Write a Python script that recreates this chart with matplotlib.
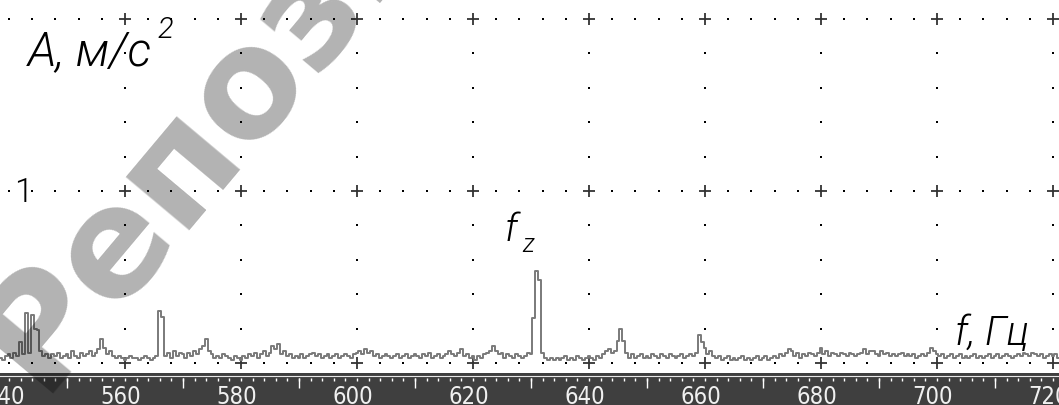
import numpy as np
import matplotlib.pyplot as plt
from matplotlib import font_manager as fm

# %% data: amplitude spectrum, 0.5 Hz bins from 538.5 Hz
f_start = 538.5
f_step = 0.5
amp_head = [0.03, 0.02, 0.04]
amp_540 = [0.05, 0.03, 0.06, 0.04, 0.12, 0.05, 0.29, 0.06, 0.28, 0.20,
           0.19, 0.07, 0.04, 0.05, 0.03, 0.05, 0.04, 0.06, 0.03, 0.04]
amp_550 = [0.05, 0.03, 0.07, 0.04, 0.03, 0.06, 0.04, 0.05, 0.07, 0.04,
           0.06, 0.08, 0.14, 0.09, 0.05, 0.07, 0.04, 0.03, 0.04, 0.03]
amp_560 = [0.02, 0.03, 0.04, 0.03, 0.03, 0.02, 0.03, 0.04, 0.03, 0.02,
           0.03, 0.04, 0.30, 0.27, 0.04, 0.06, 0.03, 0.07, 0.04, 0.06]
amp_570 = [0.05, 0.03, 0.06, 0.04, 0.07, 0.05, 0.08, 0.10, 0.14, 0.07,
           0.05, 0.03, 0.04, 0.03, 0.05, 0.04, 0.03, 0.02, 0.04, 0.03]
amp_580 = [0.02, 0.04, 0.03, 0.05, 0.04, 0.06, 0.03, 0.05, 0.07, 0.04,
           0.06, 0.10, 0.08, 0.11, 0.05, 0.07, 0.04, 0.05, 0.03, 0.04]
amp_590 = [0.03, 0.05, 0.03, 0.04, 0.05, 0.06, 0.04, 0.05, 0.03, 0.04,
           0.05, 0.03, 0.04, 0.05, 0.03, 0.04, 0.05, 0.04, 0.03, 0.05]
amp_600 = [0.06, 0.07, 0.05, 0.08, 0.06, 0.07, 0.04, 0.05, 0.03, 0.04,
           0.05, 0.04, 0.03, 0.04, 0.05, 0.03, 0.04, 0.05, 0.03, 0.04]
amp_610 = [0.05, 0.04, 0.03, 0.05, 0.04, 0.06, 0.03, 0.04, 0.05, 0.03,
           0.04, 0.05, 0.07, 0.05, 0.04, 0.06, 0.08, 0.04, 0.05, 0.03]
amp_620 = [0.04, 0.02, 0.04, 0.03, 0.05, 0.06, 0.07, 0.10, 0.07, 0.05,
           0.06, 0.03, 0.05, 0.04, 0.03, 0.05, 0.04, 0.03, 0.04, 0.06]
amp_630 = [0.05, 0.26, 0.535, 0.48, 0.06, 0.03, 0.02, 0.03, 0.02, 0.03,
           0.02, 0.03, 0.04, 0.02, 0.03, 0.02, 0.04, 0.03, 0.02, 0.03]
amp_640 = [0.04, 0.03, 0.02, 0.04, 0.03, 0.05, 0.07, 0.08, 0.06, 0.07,
           0.13, 0.20, 0.13, 0.06, 0.03, 0.05, 0.03, 0.04, 0.05, 0.03]
amp_650 = [0.04, 0.03, 0.05, 0.04, 0.03, 0.05, 0.04, 0.03, 0.05, 0.04,
           0.03, 0.04, 0.05, 0.03, 0.04, 0.05, 0.04, 0.06, 0.16, 0.12]
amp_660 = [0.09, 0.05, 0.07, 0.04, 0.03, 0.04, 0.02, 0.03, 0.04, 0.02,
           0.03, 0.02, 0.03, 0.04, 0.02, 0.03, 0.02, 0.03, 0.04, 0.02]
amp_670 = [0.03, 0.04, 0.02, 0.03, 0.04, 0.03, 0.05, 0.04, 0.06, 0.08,
           0.07, 0.04, 0.06, 0.03, 0.05, 0.04, 0.06, 0.05, 0.04, 0.06]
amp_680 = [0.09, 0.05, 0.07, 0.04, 0.06, 0.05, 0.04, 0.06, 0.05, 0.04,
           0.06, 0.05, 0.04, 0.05, 0.06, 0.08, 0.05, 0.07, 0.07, 0.05]
amp_690 = [0.04, 0.07, 0.05, 0.06, 0.04, 0.05, 0.04, 0.05, 0.06, 0.04,
           0.05, 0.04, 0.05, 0.03, 0.04, 0.05, 0.04, 0.06, 0.09, 0.07]
amp_700 = [0.05, 0.04, 0.05, 0.03, 0.04, 0.05, 0.03, 0.04, 0.05, 0.03,
           0.04, 0.03, 0.04, 0.05, 0.03, 0.04, 0.03, 0.04, 0.05, 0.03]
amp_710 = [0.04, 0.05, 0.03, 0.04, 0.05, 0.04, 0.03, 0.04, 0.05, 0.04,
           0.06, 0.05, 0.04, 0.06, 0.05, 0.04, 0.05, 0.03, 0.04, 0.05]
amp_tail = [0.04, 0.05, 0.03]

tick_labels = ['540', '560', '580', '600', '620', '640', '660', '680', '700', '720']

amp = np.array(amp_head + amp_540 + amp_550 + amp_560 + amp_570 + amp_580 + amp_590
               + amp_600 + amp_610 + amp_620 + amp_630 + amp_640 + amp_650 + amp_660
               + amp_670 + amp_680 + amp_690 + amp_700 + amp_710 + amp_tail)
freq = f_start + f_step * np.arange(len(amp))

# pick a thin italic face for the hand-drawn style labels, if one is installed
thin_family, thin_weight = 'DejaVu Sans', 'normal'
for fam in ['Roboto', 'Open Sans', 'Lato', 'Inter', 'Noto Sans', 'DejaVu Sans']:
    ws = [f.weight for f in fm.fontManager.ttflist if f.name == fam and f.style == 'italic']
    ws = [w for w in ws if isinstance(w, int) and w <= 300]
    if ws:
        thin_family, thin_weight = fam, max(ws)
        break

# %% figure layout (pixel based)
W, H = 1059, 405
fig = plt.figure(figsize=(W / 100, H / 100), dpi=100)
xlim = (538.45, 721.03)

ax = fig.add_axes([0, 32 / H, 1, 373 / H])
ax.set_xlim(*xlim)
ax.set_ylim(-0.058, 2.11)
ax.axis('off')

# dotted grid: rows at 0, 1, 2 ; columns every 20 Hz
major_f = [int(t) for t in tick_labels]
row_f = np.arange(540, 721, 4)
for yv in (0, 1, 2):
    fd = [f for f in row_f if f not in major_f[1:]]
    ax.plot(fd, [yv] * len(fd), ls='none', marker='s', ms=1.6, mew=0, color='black', zorder=2)
    ax.plot(major_f[1:], [yv] * len(major_f[1:]), ls='none', marker='+', ms=8, mew=1.3,
            color='#333333', zorder=2)
col_y = [v / 5 for v in range(1, 10) if v != 5]
for f in major_f[1:]:
    ax.plot([f] * len(col_y), col_y, ls='none', marker='s', ms=1.6, mew=0, color='black', zorder=2)

# spectrum
ax.step(freq, amp, where='mid', color='#7a7a7a', lw=1.4, zorder=3)

# labels
txt = dict(family=thin_family, fontweight=thin_weight, color='black')
fig.text(28 / W, 1 - 65 / H, 'A, м/с', fontsize=34, style='italic', **txt)
fig.text(157 / W, 1 - 38 / H, '2', fontsize=21, style='italic', **txt)
fig.text(14 / W, 1 - 202 / H, '1', fontsize=24, **txt)
fig.text(505 / W, 1 - 241 / H, 'f', fontsize=28, style='italic', **txt)
fig.text(522 / W, 1 - 252 / H, 'z', fontsize=18, style='italic', **txt)
fig.text(955 / W, 1 - 345 / H, 'f, Гц', fontsize=29, style='italic', **txt)

# dark frequency ruler at the bottom
bar = fig.add_axes([0, 0, 1, 32 / H])
bar.set_xlim(*xlim)
bar.set_ylim(0, 32)
bar.set_facecolor('#3f3f3f')
bar.set_xticks([])
bar.set_yticks([])
for s in bar.spines.values():
    s.set_visible(False)
bar.axhline(29.5, color='#e8e8e8', lw=0.8)
small = np.arange(540, 721, 2)
bar.vlines(small, 24, 27, color='white', lw=1.0)
bar.vlines(np.arange(550, 720, 20), 17, 27, color='white', lw=1.0)
for lab in tick_labels:
    bar.text(int(lab) - 0.7, 0.5, lab, ha='center', va='baseline', color='#f0f0f0',
             fontsize=17, family='DejaVu Sans', fontstretch='condensed')

# watermark
fig.text(44 / W, 1 - 403 / H, 'Репозиторий БНТУ', rotation=50, rotation_mode='anchor',
         fontsize=109, fontweight='bold', color='black', alpha=0.3,
         family='DejaVu Sans', zorder=10)

fig.savefig('out.png', dpi=100)
